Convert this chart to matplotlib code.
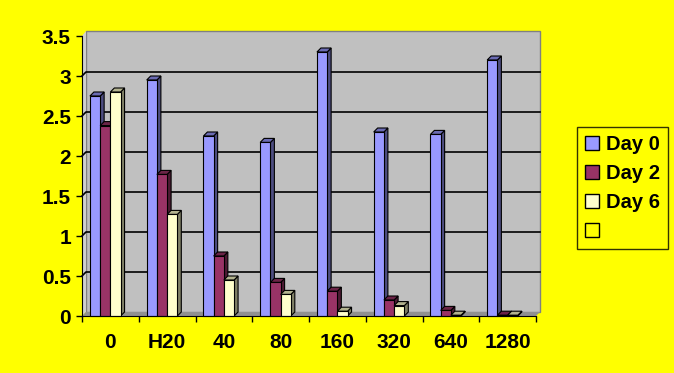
import numpy as np
import matplotlib.pyplot as plt
from matplotlib.patches import Polygon, Patch

plt.rcParams["font.family"] = ["Liberation Sans", "DejaVu Sans"]
plt.rcParams["font.weight"] = "bold"

categories = ["0", "H20", "40", "80", "160", "320", "640", "1280"]
series_names = ["Day 0", "Day 2", "Day 6"]
day0 = [2.75, 2.95, 2.25, 2.17, 3.30, 2.30, 2.27, 3.20]
day2 = [2.38, 1.77, 0.75, 0.42, 0.31, 0.20, 0.07, 0.01]
day6 = [2.80, 1.27, 0.45, 0.27, 0.06, 0.13, 0.01, 0.01]
yticks = [0, 0.5, 1, 1.5, 2, 2.5, 3, 3.5]

front = ["#9999FF", "#993366", "#FFFFCC"]
side = ["#4D4D80", "#4D1A33", "#808066"]
top = ["#6B6BB3", "#6B2447", "#B3B38F"]

yellow = "#FFFF00"
fig = plt.figure(figsize=(6.74, 3.73), dpi=100, facecolor=yellow)
ax = fig.add_axes([82 / 674, 57 / 373, 454 / 674, 280 / 373])
ax.set_facecolor("none")
ax.set_xlim(0, 8)
ax.set_ylim(0, 3.5)

# depth of the fake 3d effect in data units (~4px right, ~4px up)
dx, dy = 0.07, 0.05
bw = 0.18
off = 0.14

# walls
wall = Polygon([(dx, dy), (8 + dx, dy), (8 + dx, 3.5 + dy + 0.01), (dx, 3.5 + dy + 0.01)],
               closed=True, fc="#C0C0C0", ec="#808080", lw=1, clip_on=False, zorder=0)
ax.add_patch(wall)
lwall = Polygon([(0, 0), (dx, dy), (dx, 3.5 + dy + 0.01), (0, 3.5)], closed=True,
                fc="#D0D0D0", ec="none", clip_on=False, zorder=0)
ax.add_patch(lwall)
floor = Polygon([(0, 0), (8, 0), (8 + dx, dy), (dx, dy)], closed=True,
                fc="#909090", ec="none", clip_on=False, zorder=0.5)
ax.add_patch(floor)
for v in yticks[1:-1]:
    ax.plot([0, dx, 8 + dx], [v, v + dy, v + dy], color="black", lw=1.2,
            clip_on=False, zorder=0.6)

z = 1
for i in range(len(categories)):
    for j, vals in enumerate([day0, day2, day6]):
        x0 = i + off + j * bw
        h = vals[i]
        # side and top faces
        ax.add_patch(Polygon([(x0 + bw, 0), (x0 + bw + dx, dy), (x0 + bw + dx, h + dy), (x0 + bw, h)],
                             closed=True, fc=side[j], ec="black", lw=0.8, zorder=z, clip_on=False))
        ax.add_patch(Polygon([(x0, h), (x0 + bw, h), (x0 + bw + dx, h + dy), (x0 + dx, h + dy)],
                             closed=True, fc=top[j], ec="black", lw=0.8, zorder=z, clip_on=False))
        ax.bar(x0, h, width=bw, align="edge", color=front[j], edgecolor="black",
               lw=0.8, zorder=z + 0.5, clip_on=False)
        z += 1

for s in ["top", "right"]:
    ax.spines[s].set_visible(False)
ax.spines["left"].set_color("black")
ax.spines["bottom"].set_color("black")
ax.spines["left"].set_zorder(100)
ax.spines["bottom"].set_zorder(100)

ax.set_yticks(yticks)
ax.set_yticklabels([f"{v:g}" for v in yticks], fontsize=15, fontweight="bold")
ax.set_xticks(np.arange(0, 9))
ax.set_xticklabels([])
ax.set_xticks(np.arange(len(categories)) + 0.5, minor=True)
ax.set_xticklabels(categories, minor=True, fontsize=15, fontweight="bold")
ax.tick_params(axis="x", which="minor", length=0, pad=12)
ax.tick_params(axis="both", which="major", length=4, width=1, direction="out")
ax.tick_params(axis="y", pad=4)

handles = [Patch(fc=c, ec="black", lw=1) for c in front] + [Patch(fc=yellow, ec="black", lw=1)]
labels = series_names + [""]
leg = fig.legend(handles, labels, loc="upper left", bbox_to_anchor=(577 / 674, 1 - 127 / 373),
                 frameon=True, fancybox=False, edgecolor="black", facecolor=yellow,
                 prop={"size": 14.5, "weight": "bold"}, handlelength=0.7, handleheight=0.7,
                 handletextpad=0.35, labelspacing=0.5, borderpad=0.4, borderaxespad=0)
leg.get_frame().set_linewidth(1)

fig.savefig("out.png", dpi=100, facecolor=yellow)
